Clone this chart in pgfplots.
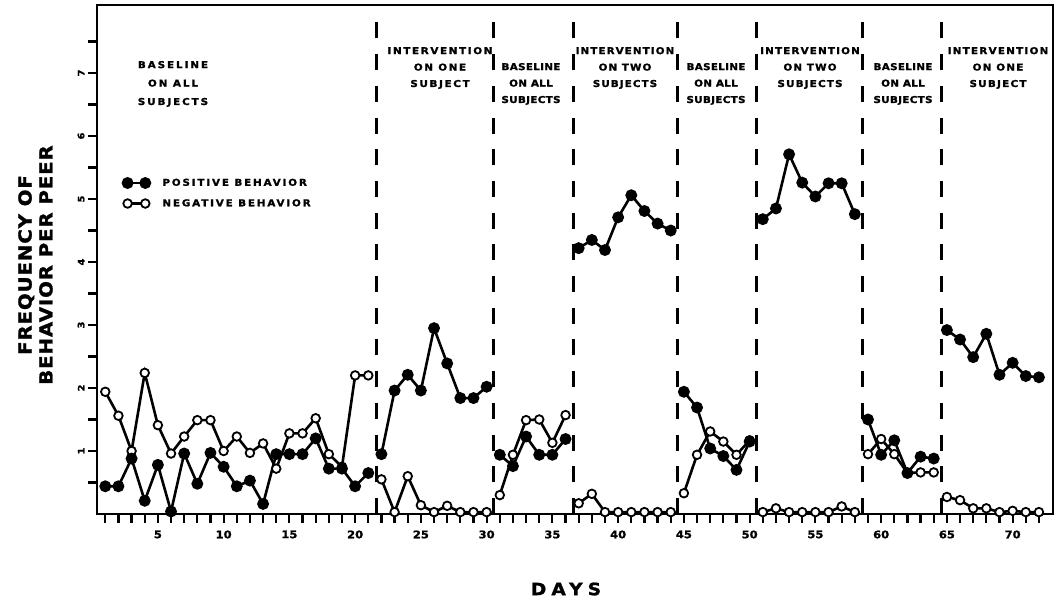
\documentclass[border=0pt]{standalone}
\usepackage{pgfplots}
\pgfplotsset{compat=1.18}
\usepackage{fontspec}
\setmainfont{DejaVu Sans}
\newfontfamily\lbl{DejaVu Sans}[FakeStretch=1.1, FakeBold=1.4]
\newcommand\lf[3]{\lbl\bfseries\addfontfeatures{LetterSpace=#3}\fontsize{#1}{#2}\selectfont}
\begin{document}
\begin{tikzpicture}
\path[use as bounding box] (0bp,0bp) rectangle (1062bp,601bp);
\begin{axis}[
  at={(97bp,87bp)}, anchor=south west, scale only axis,
  width=956bp, height=509bp,
  xmin=0.37, xmax=73.07, ymin=0, ymax=8.08,
  axis line style={line width=2.8bp},
  xtick={5,10,...,70}, minor xtick={1,...,72},
  ytick={1,...,7}, minor ytick={0.5,1.5,...,7.5},
  xtick pos=left, ytick pos=left,
  tick align=outside,
  major tick length=9bp, minor tick length=9bp,
  tick style={black, line width=2.2bp},
  /pgf/number format/assume math mode=true,
  xticklabel style={font=\lf{10.5}{12}{0}, yshift=-4bp},
  yticklabel style={rotate=90, anchor=south, font=\lf{9}{10}{0}},
  clip=false,
  unbounded coords=jump,
  legend style={at={(0.027,0.662)}, anchor=north west, draw=none, fill=none,
    font=\lf{9.5}{10}{19}, row sep=9bp, inner sep=0pt, nodes={inner sep=1.5bp},
    /tikz/every odd column/.append style={column sep=11bp}},
  legend cell align=left,
  reverse legend,
  legend image code/.code={\draw[mark repeat=1,mark phase=1,#1] plot coordinates {(0bp,0bp) (17.7bp,0bp)};},
]
% phase lines
\addplot[forget plot, black, line width=2.7bp, dash pattern=on 16bp off 15.7bp] coordinates {(21.6,0) (21.6,7.84)};
\addplot[forget plot, black, line width=2.7bp, dash pattern=on 16bp off 15.7bp] coordinates {(30.5,0) (30.5,7.84)};
\addplot[forget plot, black, line width=2.7bp, dash pattern=on 16bp off 15.7bp] coordinates {(36.6,0) (36.6,7.84)};
\addplot[forget plot, black, line width=2.7bp, dash pattern=on 16bp off 15.7bp] coordinates {(44.5,0) (44.5,7.84)};
\addplot[forget plot, black, line width=2.7bp, dash pattern=on 16bp off 15.7bp] coordinates {(50.5,0) (50.5,7.84)};
\addplot[forget plot, black, line width=2.7bp, dash pattern=on 16bp off 15.7bp] coordinates {(58.6,0) (58.6,7.84)};
\addplot[forget plot, black, line width=2.7bp, dash pattern=on 16bp off 15.7bp] coordinates {(64.6,0) (64.6,7.84)};
% negative behavior
\addplot[black, line width=2.6bp, mark=*, mark size=4.3bp, mark options={solid, fill=white, draw=black, line width=1.8bp}] coordinates {
(1,1.94) (2,1.56) (3,1.0) (4,2.24) (5,1.41) (6,0.96) (7,1.23) (8,1.49) (9,1.49) (10,1.0)
(11,1.23) (12,0.97) (13,1.12) (14,0.72) (15,1.28) (16,1.28) (17,1.52) (18,0.95) (19,0.75) (20,2.2) (21,2.2)
(21.6,nan)
(22,0.55) (23,0.03) (24,0.6) (25,0.14) (26,0.03) (27,0.13) (28,0.03) (29,0.03) (30,0.03)
(30.5,nan)
(31,0.3) (32,0.94) (33,1.49) (34,1.5) (35,1.13) (36,1.57)
(36.6,nan)
(37,0.17) (38,0.32) (39,0.03) (40,0.03) (41,0.03) (42,0.03) (43,0.03) (44,0.03)
(44.5,nan)
(45,0.33) (46,0.94) (47,1.31) (48,1.15) (49,0.94) (50,1.17)
(50.5,nan)
(51,0.03) (52,0.09) (53,0.03) (54,0.03) (55,0.03) (56,0.03) (57,0.12) (58,0.03)
(58.6,nan)
(59,0.95) (60,1.19) (61,0.95) (62,0.65) (63,0.66) (64,0.66)
(64.6,nan)
(65,0.27) (66,0.22) (67,0.09) (68,0.09) (69,0.03) (70,0.05) (71,0.03) (72,0.03)
};
\addlegendentry{NEGATIVE\ BEHAVIOR}
% positive behavior
\addplot[black, line width=2.6bp, mark=*, mark size=4.6bp, mark options={solid, fill=black, draw=black}] coordinates {
(1,0.44) (2,0.44) (3,0.88) (4,0.21) (5,0.78) (6,0.04) (7,0.96) (8,0.48) (9,0.97) (10,0.75)
(11,0.44) (12,0.53) (13,0.16) (14,0.95) (15,0.95) (16,0.95) (17,1.2) (18,0.72) (19,0.72) (20,0.44) (21,0.65)
(21.6,nan)
(22,0.95) (23,1.96) (24,2.21) (25,1.96) (26,2.95) (27,2.39) (28,1.84) (29,1.84) (30,2.02)
(30.5,nan)
(31,0.94) (32,0.76) (33,1.23) (34,0.94) (35,0.94) (36,1.19)
(36.6,nan)
(37,4.22) (38,4.35) (39,4.19) (40,4.71) (41,5.06) (42,4.81) (43,4.61) (44,4.5)
(44.5,nan)
(45,1.94) (46,1.69) (47,1.04) (48,0.92) (49,0.7) (50,1.15)
(50.5,nan)
(51,4.68) (52,4.85) (53,5.71) (54,5.26) (55,5.04) (56,5.25) (57,5.25) (58,4.76)
(58.6,nan)
(59,1.5) (60,0.94) (61,1.17) (62,0.65) (63,0.91) (64,0.88)
(64.6,nan)
(65,2.92) (66,2.77) (67,2.49) (68,2.86) (69,2.21) (70,2.4) (71,2.19) (72,2.17)
};
\addlegendentry{POSITIVE\ BEHAVIOR}
\end{axis}
% phase labels
\node[align=center, font=\lf{9.5}{18.5}{20}] at (173bp,517bp) {BASELINE\\ON ALL\\SUBJECTS};
\node[align=center, font=\lf{9.5}{16.5}{17}] at (440bp,533bp) {INTERVENTION\\ON ONE\\SUBJECT};
\node[align=center, font=\lf{9.5}{16.5}{3}] at (531bp,517bp) {BASELINE\\ON ALL\\SUBJECTS};
\node[align=center, font=\lf{9.5}{16.5}{11}] at (625bp,533bp) {INTERVENTION\\ON TWO\\SUBJECTS};
\node[align=center, font=\lf{9.5}{16.5}{3}] at (716bp,517bp) {BASELINE\\ON ALL\\SUBJECTS};
\node[align=center, font=\lf{9.5}{16.5}{12}] at (810bp,533bp) {INTERVENTION\\ON TWO\\SUBJECTS};
\node[align=center, font=\lf{9.5}{16.5}{3}] at (903bp,517bp) {BASELINE\\ON ALL\\SUBJECTS};
\node[align=center, font=\lf{9.5}{16.5}{13}] at (998bp,533bp) {INTERVENTION\\ON ONE\\SUBJECT};
% axis titles
\node[rotate=90, align=center, font=\lf{18}{21}{5}] at (35.5bp,336bp) {FREQUENCY OF\\BEHAVIOR PER PEER};
\node[font=\lf{17}{17}{30}] at (566bp,12bp) {DAYS};
\end{tikzpicture}
\end{document}
